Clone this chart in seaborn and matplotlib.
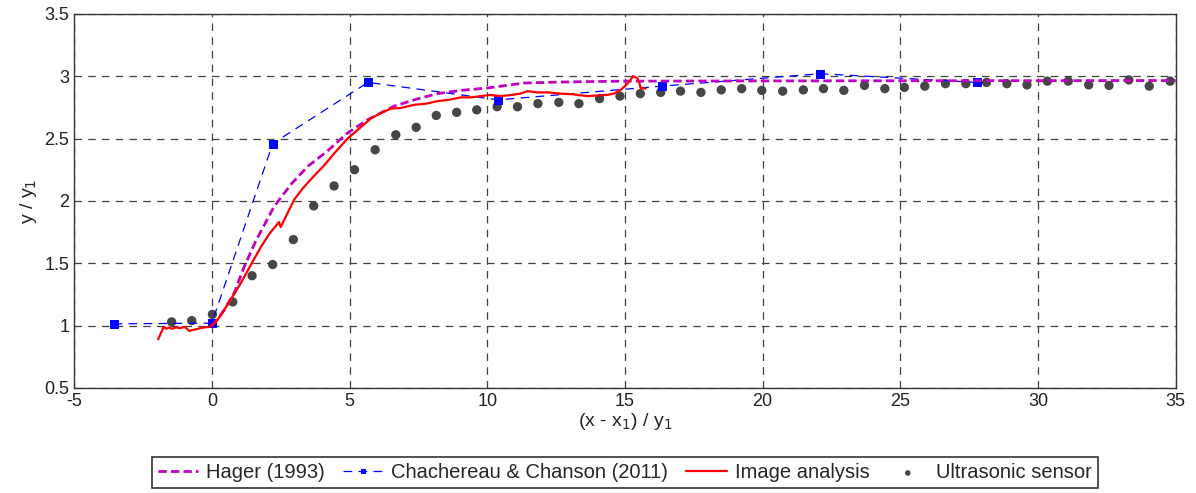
import matplotlib
matplotlib.use("Agg")
import matplotlib.pyplot as plt
import seaborn as sns
import pandas as pd
from matplotlib.ticker import FuncFormatter

# Hager (1993)
hager_x = [0.0, 0.2, 0.45, 0.81, 1.17, 1.6, 2.26, 2.9, 3.5, 4.2, 4.9, 5.65, 6.62, 7.5, 8.2, 9.04, 10.0, 11.34, 12.5, 13.5, 14.97, 20.0, 25.0, 30.0, 35.0]
hager_y = [1.0, 1.05, 1.126, 1.26, 1.47, 1.68, 1.955, 2.14, 2.28, 2.40, 2.54, 2.65, 2.76, 2.82, 2.86, 2.886, 2.905, 2.945, 2.952, 2.956, 2.96, 2.962, 2.963, 2.964, 2.965]

# Chachereau & Chanson (2011)
chach_x = [-3.57, 0.0, 2.21, 5.67, 10.4, 16.33, 22.1, 27.77]
chach_y = [1.014, 1.02, 2.46, 2.95, 2.81, 2.92, 3.02, 2.95]

# Image analysis
img_x = [-1.95, -1.85, -1.75, -1.65, -1.55, -1.45, -1.3, -1.15, -1.0, -0.9, -0.82, -0.7, -0.5, -0.3, -0.1, 0.0, 0.1, 0.2, 0.35, 0.57, 0.8, 1.05, 1.4, 1.78, 2.1, 2.44, 2.5, 2.7, 2.99, 3.3, 3.71, 4.1, 4.44, 4.93, 5.3, 5.77, 6.1, 6.5, 6.86, 7.34, 7.8, 8.19, 8.6, 9.04, 9.4, 9.76, 10.1, 10.5, 10.9, 11.2, 11.46, 11.8, 12.2, 12.67, 13.1, 13.64, 14.0, 14.36, 14.6, 14.85, 15.05, 15.2, 15.3, 15.45, 15.52, 15.57, 15.75]
img_y = [0.89, 0.94, 0.99, 0.975, 0.985, 0.975, 0.985, 0.98, 0.99, 0.975, 0.957, 0.965, 0.975, 0.985, 0.99, 1.0, 1.02, 1.045, 1.09, 1.17, 1.25, 1.34, 1.48, 1.63, 1.74, 1.83, 1.79, 1.88, 2.01, 2.1, 2.20, 2.29, 2.38, 2.50, 2.57, 2.66, 2.70, 2.74, 2.745, 2.77, 2.78, 2.80, 2.81, 2.83, 2.83, 2.84, 2.85, 2.84, 2.85, 2.86, 2.88, 2.87, 2.87, 2.86, 2.855, 2.84, 2.845, 2.85, 2.86, 2.89, 2.93, 2.97, 3.0, 2.985, 2.95, 2.905, 2.90]

# Ultrasonic sensor
us_x = [-1.46, -0.73, 0.02, 0.76, 1.46, 2.21, 2.96, 3.70, 4.44, 5.18, 5.93, 6.68, 7.42, 8.15, 8.89, 9.62, 10.36, 11.1, 11.84, 12.6, 13.33, 14.08, 14.82, 15.56, 16.3, 17.02, 17.76, 18.5, 19.24, 19.97, 20.73, 21.48, 22.21, 22.95, 23.7, 24.44, 25.15, 25.89, 26.64, 27.38, 28.13, 28.87, 29.6, 30.34, 31.1, 31.84, 32.58, 33.3, 34.04, 34.8]
us_y = [1.03, 1.04, 1.09, 1.19, 1.40, 1.49, 1.69, 1.96, 2.12, 2.25, 2.41, 2.53, 2.59, 2.685, 2.71, 2.73, 2.755, 2.755, 2.78, 2.79, 2.78, 2.82, 2.84, 2.86, 2.87, 2.88, 2.87, 2.89, 2.90, 2.886, 2.88, 2.89, 2.90, 2.886, 2.926, 2.90, 2.91, 2.92, 2.94, 2.94, 2.95, 2.94, 2.93, 2.96, 2.96, 2.93, 2.926, 2.97, 2.92, 2.96]

x_ticks = [-5, 0, 5, 10, 15, 20, 25, 30, 35]
y_ticks = [0.5, 1, 1.5, 2, 2.5, 3, 3.5]

sns.set_style("white")
plt.rcParams['font.family'] = ['Liberation Sans', 'DejaVu Sans']
plt.rcParams['axes.unicode_minus'] = False

fig = plt.figure(figsize=(11.96, 4.93), dpi=100)
ax = fig.add_axes([0.062, 0.213, 0.921, 0.759])

ax.grid(True, linestyle=(0, (6, 5)), color='#404040', linewidth=0.9)
ax.set_axisbelow(True)

df_h = pd.DataFrame({'x': hager_x, 'y': hager_y})
df_c = pd.DataFrame({'x': chach_x, 'y': chach_y})
df_i = pd.DataFrame({'x': img_x, 'y': img_y})
df_u = pd.DataFrame({'x': us_x, 'y': us_y})

sns.lineplot(data=df_h, x='x', y='y', ax=ax, sort=False, estimator=None,
             color='#C000C0', linewidth=2, linestyle=(0, (3, 1.5)), label='Hager (1993)', zorder=4)
sns.lineplot(data=df_c, x='x', y='y', ax=ax, sort=False, estimator=None,
             color='#0000FF', linewidth=0.9, linestyle=(0, (7, 5)), marker='s', markersize=6,
             markeredgecolor='#0000FF', label='Chachereau & Chanson (2011)', zorder=3)
sns.lineplot(data=df_i, x='x', y='y', ax=ax, sort=False, estimator=None,
             color='#FF0000', linewidth=1.6, label='Image analysis', zorder=5)
sns.scatterplot(data=df_u, x='x', y='y', ax=ax, color='#464646', s=45, edgecolor='none',
                label='Ultrasonic sensor', zorder=2)

ax.set_xlim(-5, 35)
ax.set_ylim(0.5, 3.5)
ax.set_xticks(x_ticks)
ax.set_yticks(y_ticks)
ax.yaxis.set_major_formatter(FuncFormatter(lambda v, p: f'{v:g}'))
ax.tick_params(labelsize=13, direction='in', length=4, colors='#222222')
ax.set_xlabel('(x - x$_1$) / y$_1$', fontsize=14, labelpad=1)
ax.set_ylabel('y / y$_1$', fontsize=14, labelpad=4)
for s in ax.spines.values():
    s.set_color('#333333')
    s.set_linewidth(1.0)

leg = ax.legend(loc='lower center', bbox_to_anchor=(0.5, -0.295), ncol=4, fontsize=14.5,
                frameon=True, fancybox=False, edgecolor='black', handlelength=2.0,
                handletextpad=0.4, columnspacing=0.9, borderpad=0.3, markerscale=0.6)
leg.get_frame().set_linewidth(1.2)

fig.savefig('out.png', dpi=100)
